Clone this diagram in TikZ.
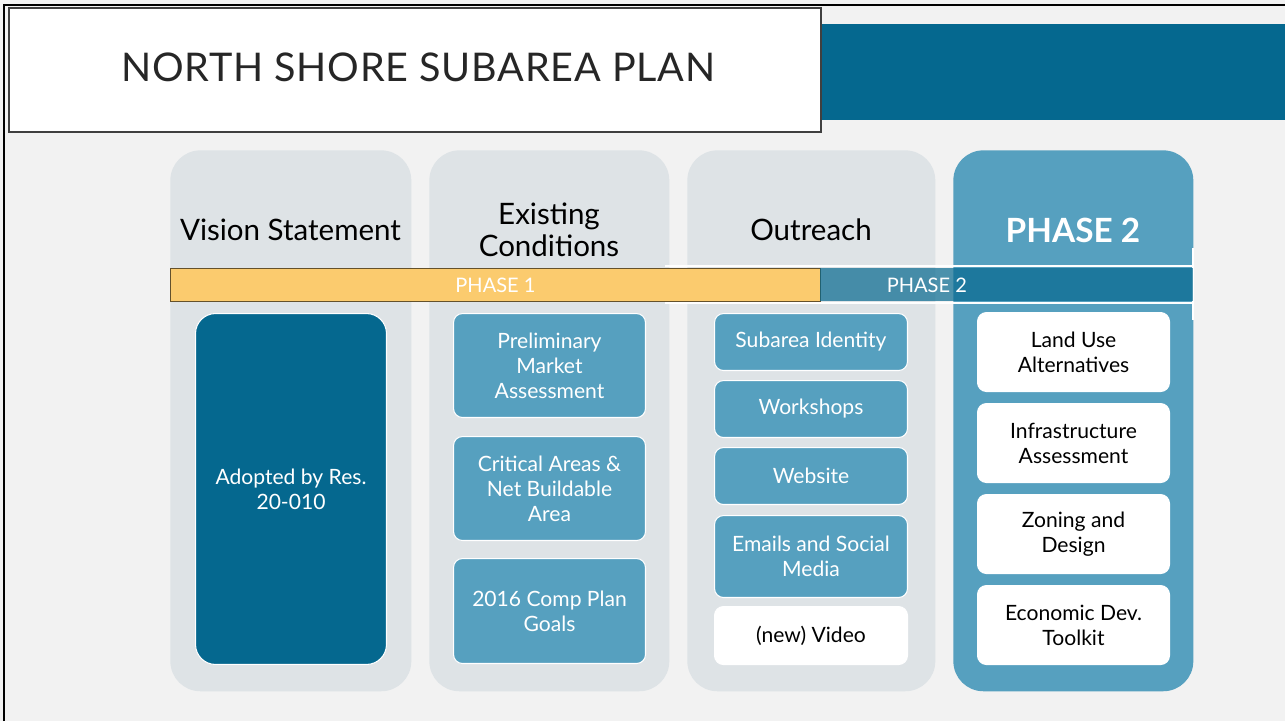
\documentclass[tikz,border=0pt]{standalone}
\usepackage{fontspec}
\setmainfont{Lato}
\usetikzlibrary{positioning}
\definecolor{pagebg}{HTML}{F2F2F2}
\definecolor{colgray}{HTML}{DEE3E6}
\definecolor{deepblue}{HTML}{05688F}
\definecolor{midblue}{HTML}{56A0BF}
\definecolor{phaseyellow}{HTML}{FBCB6E}
\definecolor{titleframe}{HTML}{404040}
\tikzset{
  column/.style={fill=colgray, rounded corners=0.6cm, anchor=north west, inner sep=0pt, minimum width=#1},
  phasecol/.style={fill=midblue, rounded corners=0.6cm, anchor=north west, inner sep=0pt, minimum width=#1},
  heading/.style={font=\fontsize{16.8pt}{18.2pt}\selectfont, align=center, text=black},
  itembox/.style={rounded corners=0.18cm, anchor=north west, inner sep=0pt, draw=white, line width=0.6pt,
    minimum width=#1},
  itemtext/.style={font=\fontsize{12pt}{14.2pt}\selectfont, align=center},
  bluebox/.style={itembox=#1, fill=midblue},
  whitebox/.style={itembox=#1, fill=white},
  phasebar/.style={anchor=north west, inner sep=0pt, minimum height=0.66cm}
}
\begin{document}
\begin{tikzpicture}[x=0.02cm, y=-0.02cm]
  \useasboundingbox (0,0) rectangle (1285,721);
  \fill[pagebg] (0,0) rectangle (1285,721);
  % slide frame
  \draw[black, line width=1.4pt] (4,721) -- (4,5) -- (1285,5);
  % banner and title
  \fill[deepblue] (820,24) rectangle (1285,120);
  \node[draw=titleframe, line width=1.4pt, fill=white, anchor=north west, inner sep=0pt,
        minimum width=16.24cm, minimum height=2.48cm] (titlebox) at (8,7) {};
  \node[anchor=west, inner sep=0pt, text=black!85,
        font=\fontsize{22.5pt}{26pt}\selectfont\addfontfeatures{LetterSpace=2}] (title) at (121,67)
        {NORTH SHORE SUBAREA PLAN};

  % columns
  \node[column=4.82cm, minimum height=10.82cm] (vision) at (170,150) {};
  \node[column=4.80cm, minimum height=10.82cm] (existing) at (429,150) {};
  \node[column=4.96cm, minimum height=10.82cm] (outreach) at (687,150) {};
  \node[phasecol=4.80cm, minimum height=10.82cm] (phasetwo) at (953,150) {};

  \node[heading] (hvision) at (290.5,230) {Vision Statement};
  \node[heading] (hexisting) at (549,230) {Existing\\Conditions};
  \node[heading] (houtreach) at (811,230) {Outreach};
  \node[heading, text=white, font=\fontsize{19pt}{20pt}\selectfont\bfseries] (hphase) at (1073,230) {PHASE 2};

  % phase bars
  \draw[white, line width=1pt] (665,266) -- (1193,266) (665,303) -- (1193,303) (1193,248) -- (1193,320);
  \node[phasebar, fill=phaseyellow, draw=black!60!phaseyellow, line width=0.6pt, minimum width=13.0cm] (phaseone) at (170,268) {};
  \node[text=white, font=\fontsize{11.4pt}{12pt}\selectfont] at (phaseone.center) {PHASE 1};
  \node[phasebar, fill=deepblue, fill opacity=0.7, minimum width=7.46cm] (phasetwobar) at (820,268) {};
  \node[text=white, font=\fontsize{11.4pt}{12pt}\selectfont, xshift=-1.6cm] at (phasetwobar.center) {PHASE 2};

  % vision statement
  \node[itembox=3.82cm, fill=deepblue, rounded corners=0.4cm, minimum height=7.02cm] (adopted) at (195,313) {};
  \node[itemtext, text=white] at (adopted.center) {Adopted by Res.\\20-010};

  % existing conditions
  \node[bluebox=3.84cm, minimum height=2.08cm] (market) at (453,313) {};
  \node[itemtext, text=white] at (market.center) {Preliminary\\Market\\Assessment};
  \node[bluebox=3.84cm, minimum height=2.08cm] (critical) at (453,436) {};
  \node[itemtext, text=white] at (critical.center) {Critical Areas \&\\Net Buildable\\Area};
  \node[bluebox=3.84cm, minimum height=2.10cm] (goals) at (453,558) {};
  \node[itemtext, text=white] at (goals.center) {2016 Comp Plan\\Goals};

  % outreach
  \node[bluebox=3.86cm, minimum height=1.14cm] (identity) at (714,313) {};
  \node[itemtext, text=white] at (identity.center) {Subarea Identity};
  \node[bluebox=3.86cm, minimum height=1.14cm] (workshops) at (714,380) {};
  \node[itemtext, text=white] at (workshops.center) {Workshops};
  \node[bluebox=3.86cm, minimum height=1.14cm] (website) at (714,447) {};
  \node[itemtext, text=white] at (website.center) {Website};
  \node[bluebox=3.86cm, minimum height=1.64cm] (social) at (714,515) {};
  \node[itemtext, text=white] at (social.center) {Emails and Social\\Media};
  \node[whitebox=3.86cm, minimum height=1.16cm] (video) at (714,606) {};
  \node[itemtext, text=black] at (video.center) {(new) Video};

  % phase 2
  \node[whitebox=3.84cm, minimum height=1.58cm] (landuse) at (977,312) {};
  \node[itemtext, text=black] at (landuse.center) {Land Use\\Alternatives};
  \node[whitebox=3.84cm, minimum height=1.58cm] (infra) at (977,403) {};
  \node[itemtext, text=black] at (infra.center) {Infrastructure\\Assessment};
  \node[whitebox=3.84cm, minimum height=1.58cm] (zoning) at (977,494) {};
  \node[itemtext, text=black] at (zoning.center) {Zoning and\\Design};
  \node[whitebox=3.84cm, minimum height=1.58cm] (econ) at (977,585) {};
  \node[itemtext, text=black] at (econ.center) {Economic Dev.\\Toolkit};
\end{tikzpicture}
\end{document}
